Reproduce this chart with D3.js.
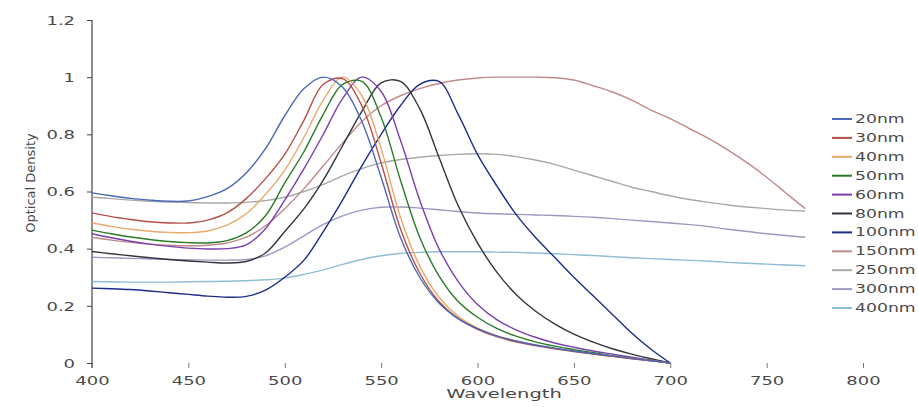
<!DOCTYPE html>
<html><head><meta charset="utf-8">
<script src="https://cdn.jsdelivr.net/npm/d3@7/dist/d3.min.js"></script>
<style>html,body{margin:0;padding:0;background:#fff;}svg{display:block;}</style>
</head><body>
<svg id="c" width="918" height="407"></svg>
<script>
// ---- data ----
const wlSharp = [400,410,420,430,440,450,460,470,480,490,500,510,520,530,540,550,560,570,580,590,600,610,620,630,640,650,660,670,680,690,700];
const wlBroad = [400,410,420,430,440,450,460,470,480,490,500,510,520,530,540,550,560,570,580,590,600,610,620,630,640,650,660,670,680,690,700,710,720,730,740,750,760,770];

const s20  = [0.595,0.585,0.576,0.570,0.566,0.567,0.582,0.610,0.665,0.750,0.865,0.960,1.000,0.965,0.845,0.650,0.440,0.300,0.210,0.155,0.120,0.095,0.077,0.063,0.052,0.042,0.033,0.024,0.016,0.008,0.000];
const s30  = [0.525,0.512,0.502,0.494,0.490,0.490,0.500,0.525,0.575,0.645,0.730,0.850,0.975,0.995,0.900,0.700,0.470,0.315,0.215,0.155,0.118,0.092,0.074,0.061,0.050,0.040,0.031,0.023,0.015,0.008,0.000];
const s40  = [0.490,0.478,0.468,0.461,0.457,0.456,0.462,0.482,0.522,0.590,0.675,0.790,0.920,1.000,0.935,0.750,0.510,0.340,0.230,0.163,0.122,0.095,0.077,0.063,0.051,0.041,0.032,0.024,0.016,0.008,0.000];
const s50  = [0.465,0.452,0.441,0.432,0.425,0.421,0.420,0.428,0.455,0.515,0.630,0.740,0.870,0.975,0.985,0.860,0.640,0.440,0.305,0.215,0.160,0.121,0.094,0.074,0.059,0.047,0.036,0.026,0.017,0.009,0.000];
const s60  = [0.452,0.438,0.426,0.416,0.408,0.402,0.399,0.400,0.413,0.470,0.570,0.680,0.800,0.925,1.000,0.950,0.780,0.570,0.400,0.285,0.205,0.152,0.116,0.090,0.070,0.055,0.042,0.031,0.020,0.010,0.000];
const s80  = [0.390,0.382,0.375,0.368,0.362,0.357,0.353,0.350,0.355,0.385,0.460,0.540,0.640,0.760,0.880,0.980,0.985,0.890,0.720,0.550,0.420,0.318,0.240,0.182,0.137,0.101,0.073,0.050,0.031,0.015,0.000];
const s100 = [0.262,0.260,0.257,0.252,0.246,0.240,0.234,0.230,0.233,0.255,0.300,0.360,0.460,0.570,0.690,0.800,0.900,0.975,0.985,0.870,0.730,0.620,0.520,0.440,0.370,0.300,0.235,0.170,0.105,0.048,0.000];
const s150 = [0.440,0.430,0.422,0.416,0.412,0.410,0.412,0.420,0.440,0.480,0.540,0.610,0.690,0.770,0.845,0.900,0.935,0.960,0.978,0.990,0.997,1.000,1.000,1.000,0.998,0.990,0.970,0.948,0.920,0.885,0.855,0.820,0.785,0.745,0.700,0.650,0.595,0.540];
const s250 = [0.580,0.575,0.570,0.566,0.563,0.561,0.560,0.560,0.562,0.568,0.580,0.600,0.625,0.655,0.680,0.700,0.712,0.720,0.726,0.730,0.732,0.730,0.722,0.710,0.695,0.675,0.655,0.635,0.615,0.600,0.585,0.572,0.562,0.553,0.546,0.540,0.535,0.532];
const s300 = [0.370,0.368,0.366,0.364,0.362,0.361,0.360,0.360,0.362,0.375,0.405,0.445,0.485,0.515,0.535,0.545,0.546,0.542,0.536,0.530,0.525,0.522,0.520,0.518,0.516,0.513,0.510,0.505,0.500,0.495,0.490,0.484,0.477,0.468,0.460,0.452,0.446,0.440];
const s400 = [0.285,0.284,0.283,0.283,0.283,0.284,0.285,0.286,0.288,0.291,0.297,0.310,0.326,0.345,0.362,0.375,0.383,0.387,0.389,0.389,0.389,0.388,0.387,0.385,0.382,0.379,0.376,0.372,0.368,0.365,0.362,0.359,0.356,0.352,0.349,0.346,0.343,0.340];

const seriesNames = ["20nm","30nm","40nm","50nm","60nm","80nm","100nm","150nm","250nm","300nm","400nm"];
const xTicks = [400,450,500,550,600,650,700,750,800];
const yTicks = [0,0.2,0.4,0.6,0.8,1,1.2];
const yTickLabels = ["0","0.2","0.4","0.6","0.8","1","1.2"];

// ---- build ----
const seriesValues = [s20,s30,s40,s50,s60,s80,s100,s150,s250,s300,s400];
const seriesX = [wlSharp,wlSharp,wlSharp,wlSharp,wlSharp,wlSharp,wlSharp,wlBroad,wlBroad,wlBroad,wlBroad];
const colors = ["#4a68b8","#b5504a","#e8a96a","#2a7a2a","#7a3fae","#34343e","#1c2c8a","#c08a8a","#a8a8a8","#9a9ac0","#8fbcd6"];

const svg = d3.select("#c");
const x = d3.scaleLinear().domain([400,800]).range([92,863]);
const y = d3.scaleLinear().domain([0,1.2]).range([363,20]);
const SX = 1.5;
const font = "DejaVu Sans, Verdana, sans-serif";
const tc = "#4a4a4a";

// y axis
const yAxis = svg.append("g").attr("transform","translate(92,0)")
  .call(d3.axisLeft(y).tickValues(yTicks).tickFormat((d,i)=>yTickLabels[i]).tickSize(5).tickSizeOuter(0));
yAxis.select(".domain").remove();
yAxis.append("line").attr("x1",0).attr("x2",0).attr("y1",20).attr("y2",368).attr("stroke","#444").attr("stroke-width",1.2);
yAxis.selectAll(".tick line").attr("stroke","#444");
yAxis.selectAll(".tick text").attr("x",-11.3).attr("dy","0.35em")
  .attr("transform",`scale(${SX},1)`).attr("fill",tc).style("font-family",font).style("font-size","12px");

// x axis (no baseline)
const xAxis = svg.append("g").attr("transform","translate(0,363)")
  .call(d3.axisBottom(x).tickValues(xTicks).tickFormat(d3.format("d")).tickSize(5).tickPadding(8));
xAxis.select(".domain").remove();
xAxis.selectAll(".tick line").attr("stroke","#777");
xAxis.selectAll(".tick text").attr("transform",`scale(${SX},1)`).attr("fill",tc)
  .style("font-family",font).style("font-size","12px");

// axis titles
svg.append("text").attr("transform",`translate(504,398) scale(${SX},1)`).attr("text-anchor","middle")
  .attr("fill",tc).style("font-family",font).style("font-size","13px").text("Wavelength");
svg.append("text").attr("transform","translate(35,183) rotate(-90)").attr("text-anchor","middle")
  .attr("fill",tc).style("font-family",font).style("font-size","13px").text("Optical Density");

// lines
const line = d3.line().x(d=>x(d[0])).y(d=>y(d[1])).curve(d3.curveCatmullRom.alpha(0.5));
const order = [10,9,8,7,6,5,4,3,2,1,0];
order.forEach(i=>{
  const pts = seriesX[i].map((w,j)=>[w,seriesValues[i][j]]);
  svg.append("path").attr("d",line(pts)).attr("fill","none")
    .attr("stroke",colors[i]).attr("stroke-width",1.4);
});

// legend
const ly = d3.scaleLinear().domain([0,10]).range([119,308]);
const lg = svg.append("g");
seriesNames.forEach((n,i)=>{
  lg.append("line").attr("x1",832).attr("x2",852).attr("y1",ly(i)).attr("y2",ly(i))
    .attr("stroke",colors[i]).attr("stroke-width",2);
  lg.append("text").attr("transform",`translate(855,${ly(i)+4}) scale(${SX},1)`)
    .attr("fill",tc).style("font-family",font).style("font-size","11.5px").text(n);
});
</script>
</body></html>
